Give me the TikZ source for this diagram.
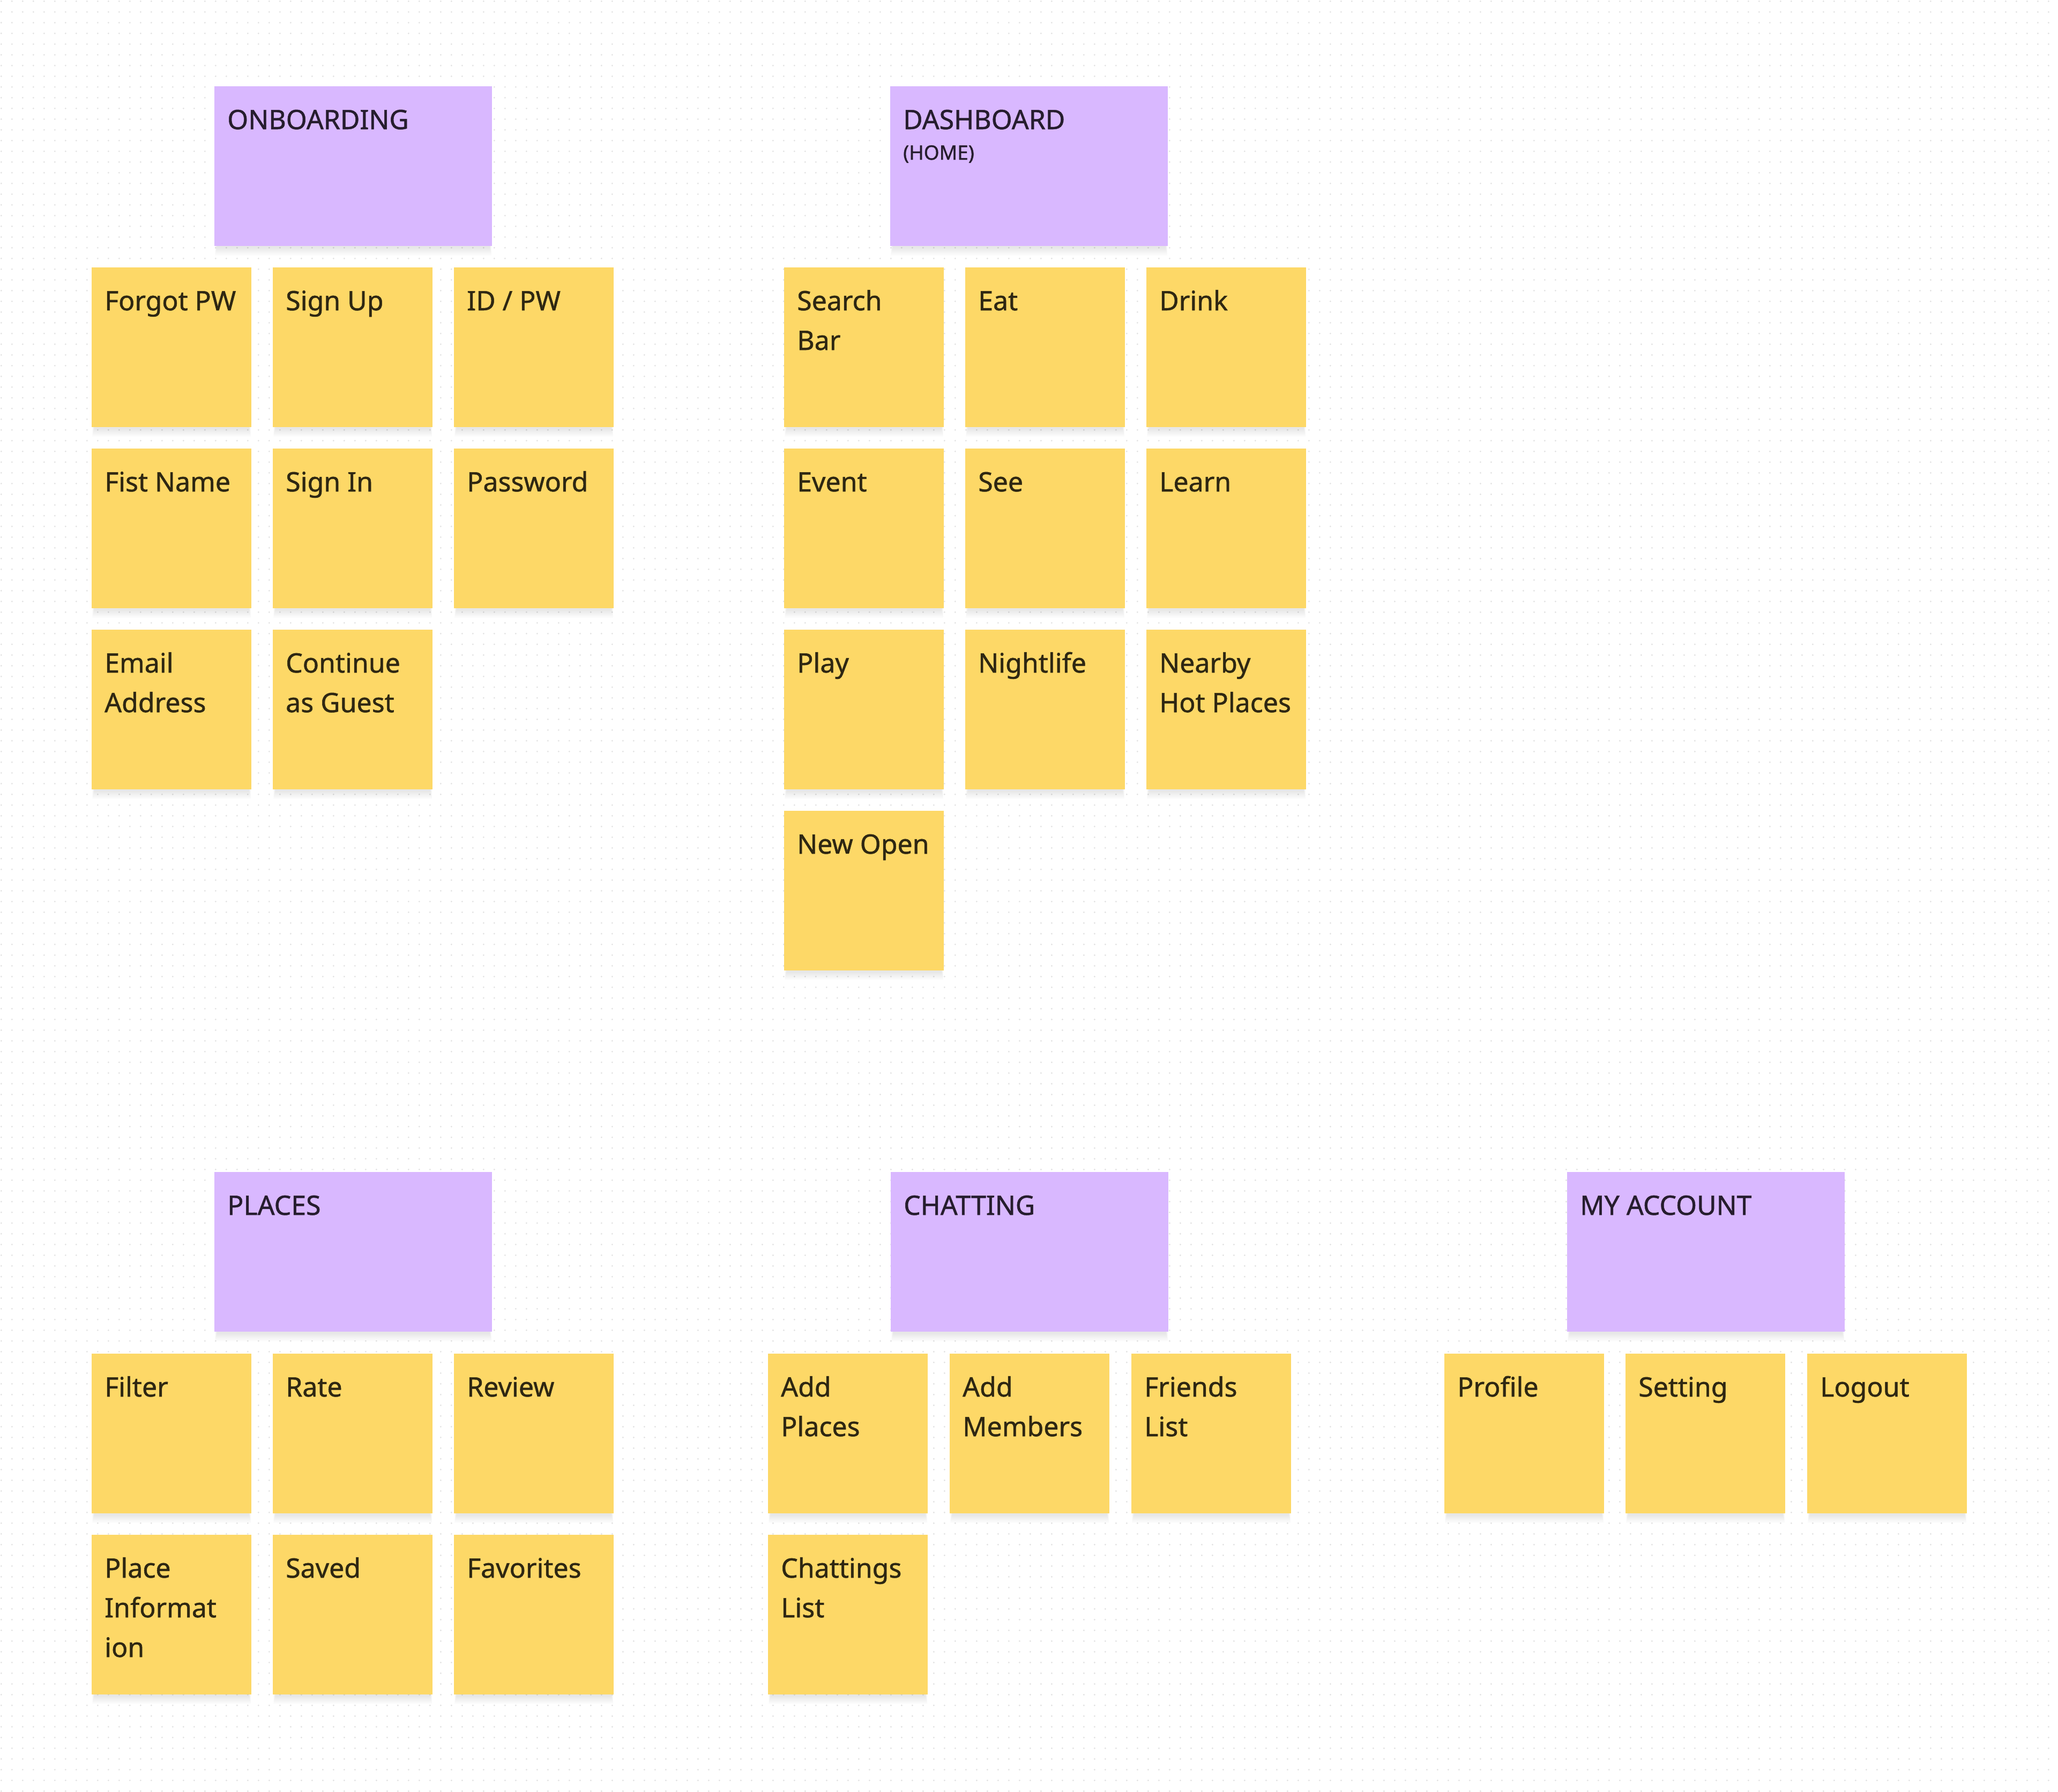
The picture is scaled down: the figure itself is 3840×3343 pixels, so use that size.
\documentclass[tikz,border=0pt]{standalone}
\usepackage{fontspec}
\setmainfont{Noto Sans}[FakeBold=1]
\definecolor{stickyY}{HTML}{FDD867}
\definecolor{stickyP}{HTML}{D9B8FF}
\definecolor{txtY}{HTML}{2E2712}
\definecolor{txtP}{HTML}{261D2E}
\definecolor{gridDot}{HTML}{E2E2E2}
\tikzset{
  ybox/.style={rectangle, fill=stickyY, anchor=north west, minimum width=298pt, minimum height=298pt, inner sep=0pt},
  pbox/.style={rectangle, fill=stickyP, anchor=north west, minimum width=518pt, minimum height=298pt, inner sep=0pt},
  ytext/.style={anchor=base west, inner sep=0pt, text=txtY, font=\fontsize{50}{74}\selectfont},
  ptext/.style={anchor=base west, inner sep=0pt, text=txtP, font=\fontsize{50}{74}\selectfont},
  psub/.style={anchor=base west, inner sep=0pt, text=txtP, font=\fontsize{37}{44}\selectfont},
  dotrow/.style={draw=gridDot, line width=3.2pt, line cap=round, dash pattern=on 0pt off 20pt},
  shadowlayer/.style={fill=black, opacity=0.012}
}
\newcommand\ysticky[4]{%
  \foreach \rr in {2,4,...,16}{\fill[shadowlayer] ({#2+5-\rr/4},{#3+14}) rectangle ({#2+293+\rr/4},{#3+300+\rr});}
  \node[ybox] (#1) at (#2,#3) {};
  \node[ytext] (#1t) at ([xshift=24pt,yshift=-80pt]#1.north west) {\parbox[t]{272pt}{\raggedright #4}};
}
\newcommand\psticky[4]{%
  \foreach \rr in {2,4,...,16}{\fill[shadowlayer] ({#2+5-\rr/4},{#3+14}) rectangle ({#2+513+\rr/4},{#3+300+\rr});}
  \node[pbox] (#1) at (#2,#3) {};
  \node[ptext] (#1t) at ([xshift=24pt,yshift=-80pt]#1.north west) {#4};
}
\begin{document}
\begin{tikzpicture}[x=1pt,y=-1pt]
\fill[white] (0,0) rectangle (3840,3343);
\useasboundingbox (0,0) rectangle (3840,3343);
% dotted canvas
\foreach \k in {0,...,167}{\draw[dotrow] (2.3,{2.3+20*\k}) -- (3840,{2.3+20*\k});}

% ---------- ONBOARDING ----------
\psticky{onb}{400}{161}{ONBOARDING}
\ysticky{forgot}{171}{499}{Forgot PW}
\ysticky{signup}{509}{499}{Sign Up}
\ysticky{idpw}{847}{499}{ID / PW}
\ysticky{fist}{171}{837}{Fist Name}
\ysticky{signin}{509}{837}{Sign In}
\ysticky{passw}{847}{837}{Password}
\ysticky{email}{171}{1175}{Email\\Address}
\ysticky{guest}{509}{1175}{Continue\\as Guest}

% ---------- DASHBOARD ----------
\psticky{dash}{1661}{161}{DASHBOARD}
\node[psub] (dashsub) at ([xshift=24pt,yshift=-137pt]dash.north west) {(HOME)};
\ysticky{search}{1463}{499}{Search\\Bar}
\ysticky{eat}{1801}{499}{Eat}
\ysticky{drink}{2139}{499}{Drink}
\ysticky{event}{1463}{837}{Event}
\ysticky{see}{1801}{837}{See}
\ysticky{learn}{2139}{837}{Learn}
\ysticky{play}{1463}{1175}{Play}
\ysticky{night}{1801}{1175}{Nightlife}
\ysticky{nearby}{2139}{1175}{Nearby\\Hot Places}
\ysticky{newopen}{1463}{1513}{New Open}

% ---------- PLACES ----------
\psticky{plc}{400}{2187}{PLACES}
\ysticky{filter}{171}{2526}{Filter}
\ysticky{rate}{509}{2526}{Rate}
\ysticky{review}{847}{2526}{Review}
\ysticky{pinfo}{171}{2864}{Place\\Informat\\ion}
\ysticky{saved}{509}{2864}{Saved}
\ysticky{favs}{847}{2864}{Favorites}

% ---------- CHATTING ----------
\psticky{chat}{1662}{2187}{CHATTING}
\ysticky{addpl}{1433}{2526}{Add\\Places}
\ysticky{addmem}{1772}{2526}{Add\\Members}
\ysticky{friends}{2111}{2526}{Friends\\List}
\ysticky{chlist}{1433}{2864}{Chattings\\List}

% ---------- MY ACCOUNT ----------
\psticky{acct}{2924}{2187}{MY ACCOUNT}
\ysticky{profile}{2695}{2526}{Profile}
\ysticky{setting}{3033}{2526}{Setting}
\ysticky{logout}{3372}{2526}{Logout}
\end{tikzpicture}
\end{document}
